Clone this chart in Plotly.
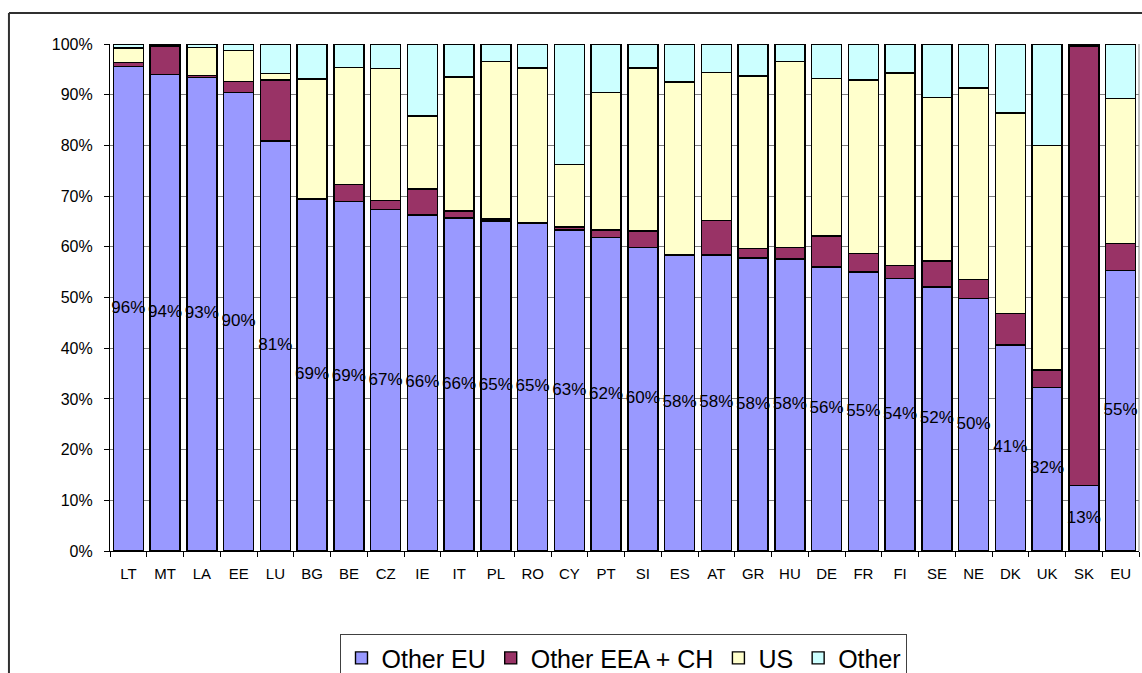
import plotly.graph_objects as go

# Country codes along the x axis
countries = ["LT", "MT", "LA", "EE", "LU", "BG", "BE", "CZ", "IE", "IT", "PL", "RO", "CY", "PT",
             "SI", "ES", "AT", "GR", "HU", "DE", "FR", "FI", "SE", "NE", "DK", "UK", "SK", "EU"]

# Shares (%) by origin, stacked to 100%
other_eu = [95.6, 94.0, 93.4, 90.4, 80.9, 69.4, 68.9, 67.3, 66.3, 65.7, 65.1, 64.6, 63.3, 61.8,
            59.9, 58.4, 58.4, 57.8, 57.6, 56.0, 55.0, 53.8, 52.1, 49.8, 40.6, 32.3, 12.9, 55.3]
other_eea_ch = [0.7, 5.6, 0.4, 2.2, 12.0, 0.1, 3.4, 1.8, 5.1, 1.4, 0.4, 0.1, 0.6, 1.5,
                3.2, 0.1, 6.8, 1.9, 2.3, 6.1, 3.7, 2.5, 5.1, 3.7, 6.2, 3.4, 86.7, 5.3]
us = [2.9, 0.2, 5.5, 6.1, 1.3, 23.6, 23.1, 26.1, 14.4, 26.4, 31.1, 30.6, 12.3, 27.1,
      32.2, 34.0, 29.2, 34.0, 36.6, 31.1, 34.2, 38.0, 32.2, 37.8, 39.6, 44.3, 0.2, 28.6]
other = [0.8, 0.2, 0.7, 1.3, 5.8, 6.9, 4.6, 4.8, 14.2, 6.5, 3.4, 4.7, 23.8, 9.6,
         4.7, 7.5, 5.6, 6.3, 3.5, 6.8, 7.1, 5.7, 10.6, 8.7, 13.6, 20.0, 0.2, 10.8]

y_ticks = [0, 10, 20, 30, 40, 50, 60, 70, 80, 90, 100]
y_tick_text = [f"{v}%" for v in y_ticks]

FONT = "Arial, Liberation Sans, sans-serif"

series = [
    ("Other EU", other_eu, "#9999FF"),
    ("Other EEA + CH", other_eea_ch, "#993366"),
    ("US", us, "#FFFFCC"),
    ("Other", other, "#CCFFFF"),
]

fig = go.Figure()
for name, vals, color in series:
    fig.add_trace(go.Bar(
        x=countries, y=vals, name=name,
        marker=dict(color=color, line=dict(color="black", width=1.4)),
        hoverinfo="skip",
    ))

# Share labels centred on the "Other EU" segment
fig.add_trace(go.Scatter(
    x=countries,
    y=[v / 2 for v in other_eu],
    text=[f"{round(v)}%" for v in other_eu],
    mode="text",
    textposition="middle center",
    textfont=dict(family=FONT, size=17, color="black"),
    showlegend=False,
    hoverinfo="skip",
    cliponaxis=False,
))

fig.update_layout(
    width=1142, height=673,
    barmode="stack",
    bargap=0.185,
    paper_bgcolor="white",
    plot_bgcolor="white",
    margin=dict(l=110, r=3, t=44, b=122, autoexpand=False),
    font=dict(family=FONT, color="black"),
    xaxis=dict(
        type="category",
        range=[-0.5, len(countries) - 0.5],
        showline=True, linecolor="black", linewidth=1.2,
        ticks="outside", ticklen=5, tickcolor="black", tickwidth=1,
        tickson="boundaries",
        tickfont=dict(size=15, family=FONT),
        ticklabelstandoff=9,
        showgrid=False,
    ),
    yaxis=dict(
        range=[0, 100],
        tickvals=y_ticks, ticktext=y_tick_text,
        showline=True, linecolor="black", linewidth=1.2,
        ticks="outside", ticklen=5, tickcolor="black",
        tickfont=dict(size=16, family=FONT),
        ticklabelstandoff=8,
        showgrid=True, gridcolor="#808080", gridwidth=1,
        zeroline=False,
    ),
    legend=dict(
        orientation="h",
        x=0.224, xanchor="left",
        y=-0.164, yanchor="top",
        font=dict(size=25, family=FONT),
        bordercolor="#404040", borderwidth=1,
        bgcolor="white",
        traceorder="normal",
        itemclick=False,
    ),
    shapes=[
        # outer chart frame (top and left edges)
        dict(type="line", xref="paper", yref="paper", x0=-0.0982, x1=1.01, y0=1.061, y1=1.061,
             line=dict(color="#303030", width=2)),
        dict(type="line", xref="paper", yref="paper", x0=-0.0982, x1=-0.0982, y0=1.061, y1=-0.26,
             line=dict(color="#303030", width=2)),
        # plot area right border
        dict(type="line", xref="paper", yref="paper", x0=1.0, x1=1.0, y0=0, y1=1,
             line=dict(color="#808080", width=1)),
    ],
)

fig.write_html("out.html")
